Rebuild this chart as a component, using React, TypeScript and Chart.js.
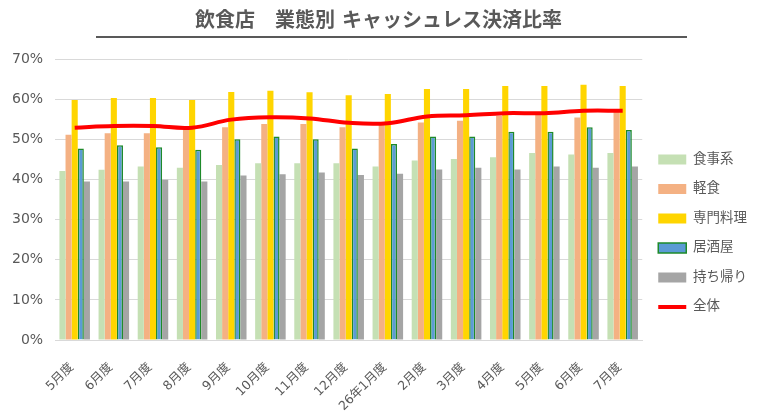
import { useEffect, useRef } from "react";
import { Chart, registerables } from "chart.js";

Chart.register(...registerables);

const FONT = "'DejaVu Sans', 'Noto Sans CJK JP', sans-serif";

const months = [
  "5月度",
  "6月度",
  "7月度",
  "8月度",
  "9月度",
  "10月度",
  "11月度",
  "12月度",
  "26年1月度",
  "2月度",
  "3月度",
  "4月度",
  "5月度",
  "6月度",
  "7月度",
];

// values in %
const shokuji = [42.1, 42.4, 43.2, 42.9, 43.6, 44.0, 44.0, 44.0, 43.2, 44.7, 45.1, 45.5, 46.6, 46.2, 46.6];
const keishoku = [51.1, 51.5, 51.5, 52.8, 53.0, 53.8, 53.8, 53.0, 53.6, 54.2, 54.6, 55.8, 56.1, 55.4, 56.8];
const senmon = [59.8, 60.3, 60.3, 59.8, 61.8, 62.1, 61.7, 61.0, 61.3, 62.5, 62.5, 63.3, 63.3, 63.6, 63.3];
const izakaya = [47.7, 48.5, 48.0, 47.4, 50.0, 50.7, 50.0, 47.7, 48.8, 50.7, 50.7, 51.9, 51.9, 53.0, 52.3];
const mochikaeri = [39.5, 39.5, 39.9, 39.5, 41.0, 41.3, 41.7, 41.1, 41.4, 42.5, 42.9, 42.5, 43.2, 42.9, 43.2];
const zentai = [52.9, 53.3, 53.3, 52.9, 54.9, 55.5, 55.2, 54.1, 54.0, 55.7, 56.0, 56.5, 56.5, 57.1, 57.1];

const yTicks = [0, 10, 20, 30, 40, 50, 60, 70];

// underline under the title
const titleRule = {
  id: "titleRule",
  afterDraw(chart: Chart) {
    const ctx = chart.ctx;
    ctx.save();
    ctx.strokeStyle = "#595959";
    ctx.lineWidth = 2;
    ctx.beginPath();
    ctx.moveTo(96, 37);
    ctx.lineTo(687, 37);
    ctx.stroke();
    ctx.restore();
  },
};

export default function App() {
  const canvasRef = useRef<HTMLCanvasElement>(null);
  const chartRef = useRef<Chart | null>(null);

  useEffect(() => {
    document.body.style.margin = "0";
    if (!canvasRef.current) return;
    Chart.defaults.font.family = FONT;

    const bar = (label: string, data: number[], color: string) => ({
      type: "bar" as const,
      label,
      data,
      backgroundColor: color,
      borderWidth: 0,
      pointStyle: "rect",
      order: 1,
      categoryPercentage: 0.78,
      barPercentage: 1.0,
    });

    chartRef.current?.destroy();
    chartRef.current = new Chart(canvasRef.current, {
      type: "bar",
      data: {
        labels: months,
        datasets: [
          bar("食事系", shokuji, "#C5E0B4"),
          bar("軽食", keishoku, "#F4B183"),
          bar("専門料理", senmon, "#FFD500"),
          {
            ...bar("居酒屋", izakaya, "#5B9BD5"),
            borderColor: "#1E8A2A",
            borderWidth: 1.5,
          },
          bar("持ち帰り", mochikaeri, "#A5A5A5"),
          {
            type: "line" as const,
            label: "全体",
            data: zentai,
            borderColor: "#FF0000",
            backgroundColor: "#FF0000",
            borderWidth: 4,
            tension: 0.4,
            pointRadius: 0,
            pointStyle: "line",
            order: 0,
          },
        ] as any,
      },
      options: {
        animation: false,
        responsive: true,
        maintainAspectRatio: false,
        layout: { padding: { left: 0, right: 5, top: 0, bottom: 0 } },
        plugins: {
          title: {
            display: true,
            text: "飲食店　業態別 キャッシュレス決済比率",
            color: "#595959",
            font: { size: 20, weight: "bold" },
            padding: { top: 10, bottom: 25 },
          },
          legend: {
            position: "right",
            title: {
              display: true,
              text: "",
              font: { size: 12 },
              padding: { top: 0, bottom: 35 },
            },
            labels: {
              usePointStyle: true,
              pointStyleWidth: 28,
              boxHeight: 10,
              color: "#595959",
              font: { size: 13.5 },
              padding: 16,
              sort: (a: any, b: any) => a.datasetIndex - b.datasetIndex,
            },
          },
          tooltip: { enabled: false },
        },
        scales: {
          x: {
            grid: { display: false },
            border: { color: "#D9D9D9" },
            afterFit: (scale: any) => {
              scale.height -= 9;
            },
            ticks: {
              color: "#595959",
              font: { size: 12.5 },
              minRotation: 45,
              maxRotation: 45,
              autoSkip: false,
              padding: 12,
              labelOffset: -3,
            },
          },
          y: {
            min: 0,
            max: 70,
            afterBuildTicks: (axis: any) => {
              axis.ticks = yTicks.map((v) => ({ value: v }));
            },
            grid: { color: "#D9D9D9", drawTicks: false },
            border: { display: false },
            ticks: {
              color: "#595959",
              font: { size: 14 },
              padding: 12,
              callback: (v: any) => `${v}%`,
            },
          },
        },
      },
      plugins: [titleRule],
    });

    return () => {
      chartRef.current?.destroy();
      chartRef.current = null;
    };
  }, []);

  return (
    <div style={{ position: "relative", width: 762, height: 417, background: "#fff" }}>
      <canvas ref={canvasRef}></canvas>
    </div>
  );
}
